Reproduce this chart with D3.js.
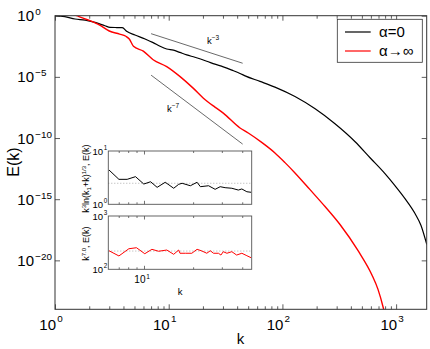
<!DOCTYPE html>
<html>
<head>
<meta charset="utf-8">
<script src="https://cdn.jsdelivr.net/npm/d3@7"></script>
<style>
  body { margin: 0; background: #fff; }
  svg { display: block; font-family: "Liberation Sans", Arial, sans-serif; }
</style>
</head>
<body>
<svg width="430" height="349"></svg>
<script>
// energy spectra (log10 of E)
var kBlack = [1, 1.22, 1.5, 1.84, 2.25, 2.75, 3.05, 3.5, 3.9, 4.3, 5.05, 6.2, 7.3, 8.4, 9.6, 11, 12.5, 14.4, 17, 21.6, 25.5, 30.2, 36, 42.4, 47, 63.5, 86, 129, 194, 290, 436, 590, 798, 977, 1197, 1466, 1656, 1860];
var logEBlack = [0, -0.08, -0.27, -0.36, -0.55, -0.82, -0.95, -0.97, -0.98, -1.3, -1.58, -1.9, -2.2, -2.5, -2.72, -2.82, -3.0, -3.2, -3.4, -3.72, -3.96, -4.18, -4.45, -4.72, -4.92, -5.37, -5.84, -6.61, -7.61, -8.83, -10.3, -11.61, -12.91, -13.89, -14.95, -16.17, -17.15, -18.7];

var kRed = [1, 1.55, 1.96, 2.45, 3.0, 3.7, 4.2, 4.5, 4.9, 5.98, 7.3, 9.6, 12.6, 16.4, 20.2, 25.5, 30.2, 42.4, 50.1, 66.2, 86, 105.4, 129, 175, 237, 321, 466, 610, 693, 771, 815];
var logERed = [0.6, 0, -0.35, -0.75, -1.25, -1.5, -1.68, -1.9, -2.5, -2.9, -3.6, -4.16, -4.98, -5.92, -6.74, -7.47, -7.96, -9.18, -9.59, -10.38, -11.22, -12.01, -12.85, -14.22, -15.6, -17.07, -19.25, -21.15, -22.37, -23.87, -24.82];

// compensated spectra in the insets
var insetK1 = [6.06, 6.97, 7.83, 8.81, 9.9, 10.9, 11.95, 13.4, 15.1, 16.2, 17.0, 19.1, 21.0, 22.0, 24.7, 27.1, 29.1, 31.2, 34.3, 37.6, 39.5, 42.4, 45.0];
var insetV1 = [4.4, 2.94, 2.94, 3.3, 2.4, 2.65, 2.08, 2.59, 2.0, 2.37, 2.48, 2.23, 2.59, 2.14, 2.23, 1.91, 2.14, 2.05, 2.0, 1.85, 1.94, 1.72, 1.68];
var insetK2 = [6.06, 6.97, 8.02, 8.93, 10.04, 11.1, 12.2, 13.7, 15.1, 16.2, 16.5, 17.8, 19.5, 21.0, 22.3, 24.1, 25.3, 26.5, 28.4, 29.4, 30.4, 32.0, 34.3, 36.7, 39.5, 42.4, 45.0];
var insetV2 = [223, 178, 243, 254, 196, 237, 218, 230, 191, 230, 200, 200, 200, 237, 223, 200, 223, 200, 200, 185, 214, 200, 214, 185, 200, 180, 165];
var insetRef1 = 2.48;
var insetRef2 = 220;

// guide power laws, drawn from k=7 to k=44.7
var guideK = [7, 44.7];
var guideSlope = [-3, -7];
var guideLogE0 = [-1.47, -4.86];
var guideText = ["−3", "−7"];

var xTickExp = [0, 1, 2, 3];
var yTickExp = [0, -5, -10, -15, -20];
var legendLabels = ["α=0", "α→∞"];
var seriesColors = ["#000", "#ff0000"];

var svg = d3.select("svg");
var axisColor = "#333";

var x = d3.scaleLog().domain([1, Math.pow(10, 3.269)]).range([55, 426.7]);
var y = d3.scaleLog().domain([1, 1e-24]).range([15.7, 309.3]);

// superscript label: "10" right-aligned at xp, exponent after it
function powLabel(g, xp, yp, exp, size, expDy) {
  g.append("text").attr("x", xp).attr("y", yp)
    .attr("font-size", size).attr("text-anchor", "end").text("10");
  g.append("text").attr("x", xp + size * 0.08).attr("y", yp - expDy)
    .attr("font-size", size * 0.66).text(exp);
}
function expStr(e) { return e < 0 ? "−" + (-e) : "" + e; }

svg.append("defs").append("clipPath").attr("id", "clip")
  .append("rect").attr("x", 55).attr("y", 15.7).attr("width", 371.7).attr("height", 293.6);

var xMinor = [];
[0, 1, 2, 3].forEach(function(e) {
  for (var d = 2; d <= 9; d++) {
    var v = d * Math.pow(10, e);
    if (v < x.domain()[1]) xMinor.push(v);
  }
});
var xMajor = xTickExp.map(function(e) { return Math.pow(10, e); });
var yMajor = yTickExp.map(function(e) { return Math.pow(10, e); });

function tickAxis(axis, tx, ty, vals, size) {
  var g = svg.append("g").attr("transform", "translate(" + tx + "," + ty + ")")
    .call(axis.tickValues(vals).tickSize(size).tickFormat(""));
  g.select(".domain").remove();
  g.selectAll("line").attr("stroke", axisColor).attr("stroke-width", 0.8);
}
tickAxis(d3.axisBottom(x), 0, 309.3, xMajor, -5);
tickAxis(d3.axisBottom(x), 0, 309.3, xMinor, -3);
tickAxis(d3.axisTop(x), 0, 15.7, xMajor, -5);
tickAxis(d3.axisTop(x), 0, 15.7, xMinor, -3);
tickAxis(d3.axisLeft(y), 55, 0, yMajor, -5);
tickAxis(d3.axisRight(y), 426.7, 0, yMajor, -5);

// curves
var line = d3.line()
  .x(function(d) { return x(d[0]); })
  .y(function(d) { return y(Math.pow(10, d[1])); });
var smooth = d3.line()
  .curve(d3.curveMonotoneX)
  .x(function(d) { return x(d[0]); })
  .y(function(d) { return y(Math.pow(10, d[1])); });

var plot = svg.append("g").attr("clip-path", "url(#clip)");
plot.append("path")
  .datum(d3.zip(kBlack, logEBlack))
  .attr("d", smooth).attr("fill", "none")
  .attr("stroke", seriesColors[0]).attr("stroke-width", 1.2);
plot.append("path")
  .datum(d3.zip(kRed, logERed))
  .attr("d", smooth).attr("fill", "none")
  .attr("stroke", seriesColors[1]).attr("stroke-width", 1.4);

// guide lines
guideSlope.forEach(function(s, i) {
  var pts = guideK.map(function(k) {
    return [k, guideLogE0[i] + s * Math.log10(k / guideK[0])];
  });
  svg.append("path").datum(pts).attr("d", line)
    .attr("fill", "none").attr("stroke", "#444").attr("stroke-width", 0.8);
});
var gl = svg.append("g").attr("font-size", 9.5).attr("fill", "#000");
var t1 = gl.append("text").attr("x", 207).attr("y", 44);
t1.append("tspan").text("k");
t1.append("tspan").attr("dy", -4).attr("font-size", 6.5).text(guideText[0]);
var t2 = gl.append("text").attr("x", 167).attr("y", 112);
t2.append("tspan").text("k");
t2.append("tspan").attr("dy", -4).attr("font-size", 6.5).text(guideText[1]);

// frame
svg.append("rect").attr("x", 55).attr("y", 15.7).attr("width", 371.7).attr("height", 293.6)
  .attr("fill", "none").attr("stroke", axisColor).attr("stroke-width", 1);

// tick labels
var labs = svg.append("g").attr("fill", "#000");
xTickExp.forEach(function(e) {
  powLabel(labs, x(Math.pow(10, e)) + 1, 330, expStr(e), 15, 8);
});
yTickExp.forEach(function(e) {
  powLabel(labs, 34, y(Math.pow(10, e)) + 5.5, expStr(e), 15, 6);
});

svg.append("text").attr("x", 240.5).attr("y", 344).attr("text-anchor", "middle")
  .attr("font-size", 15).text("k");
svg.append("text").attr("transform", "translate(19,162) rotate(-90)")
  .attr("text-anchor", "middle").attr("font-size", 16).text("E(k)");

// legend
var leg = svg.append("g");
leg.append("rect").attr("x", 337.3).attr("y", 19.3).attr("width", 85).attr("height", 43)
  .attr("fill", "#fff").attr("stroke", axisColor).attr("stroke-width", 0.8);
legendLabels.forEach(function(l, i) {
  var ly = 32 + i * 19;
  leg.append("line").attr("x1", 345).attr("x2", 370.7).attr("y1", ly).attr("y2", ly)
    .attr("stroke", seriesColors[i]).attr("stroke-width", 1.2);
  leg.append("text").attr("x", 379).attr("y", ly + 5).attr("font-size", 15).text(l);
});

// insets
var xi = d3.scaleLog().domain([6, 45.4]).range([108.3, 251.7]);
function inset(top, bottom, dom, ks, vs, ref, color, lab, showX) {
  var yi = d3.scaleLog().domain(dom).range([bottom, top]);
  var g = svg.append("g");
  g.append("rect").attr("x", 108.3).attr("y", top).attr("width", 143.4).attr("height", bottom - top)
    .attr("fill", "#fff");
  var ticks = [7, 8, 9, 20, 30, 40];
  [[bottom, -2, ticks], [bottom, -3.5, [10]], [top, 2, ticks], [top, 3.5, [10]]].forEach(function(t) {
    g.selectAll(null).data(t[2]).enter().append("line")
      .attr("x1", function(d) { return xi(d); }).attr("x2", function(d) { return xi(d); })
      .attr("y1", t[0]).attr("y2", t[0] + t[1])
      .attr("stroke", axisColor).attr("stroke-width", 0.7);
  });
  g.append("line").attr("x1", 108.3).attr("x2", 251.7).attr("y1", yi(ref)).attr("y2", yi(ref))
    .attr("stroke", "#999").attr("stroke-width", 0.8).attr("stroke-dasharray", "1,2");
  var li = d3.line()
    .x(function(d) { return xi(d[0]); })
    .y(function(d) { return yi(d[1]); });
  g.append("path").datum(d3.zip(ks, vs)).attr("d", li)
    .attr("fill", "none").attr("stroke", color).attr("stroke-width", 1);
  g.append("rect").attr("x", 108.3).attr("y", top).attr("width", 143.4).attr("height", bottom - top)
    .attr("fill", "none").attr("stroke", "#555").attr("stroke-width", 0.9);
  var e0 = Math.round(Math.log10(dom[0])), e1 = Math.round(Math.log10(dom[1]));
  powLabel(g, 103, top + 3.5, "" + e1, 9.5, 4.5);
  powLabel(g, 103, bottom + 3.5, "" + e0, 9.5, 4.5);
  var lt = g.append("text").attr("transform", "translate(89," + ((top + bottom) / 2 + 1) + ") rotate(-90)")
    .attr("text-anchor", "middle").attr("font-size", 9);
  lab(lt);
  if (showX) {
    powLabel(g, xi(10) + 1, bottom + 14, "1", 10, 4.5);
    g.append("text").attr("x", 180).attr("y", 295).attr("text-anchor", "middle")
      .attr("font-size", 9.5).text("k");
  }
}
inset(151, 204.3, [1, 10], insetK1, insetV1, insetRef1, seriesColors[0], function(t) {
  t.append("tspan").text("k");
  t.append("tspan").attr("dy", -3.5).attr("font-size", 6).text("3");
  t.append("tspan").attr("dy", 3.5).text("ln(k");
  t.append("tspan").attr("dy", 2).attr("font-size", 6).text("1");
  t.append("tspan").attr("dy", -2).text("+k)");
  t.append("tspan").attr("dy", -3.5).attr("font-size", 6).text("1/3");
  t.append("tspan").attr("dy", 3.5).text(", E(k)");
}, false);
inset(216, 269.3, [100, 1000], insetK2, insetV2, insetRef2, seriesColors[1], function(t) {
  t.append("tspan").text("k");
  t.append("tspan").attr("dy", -3.5).attr("font-size", 6).text("7.0");
  t.append("tspan").attr("dy", 3.5).text(", E(k)");
}, true);
</script>
</body>
</html>
